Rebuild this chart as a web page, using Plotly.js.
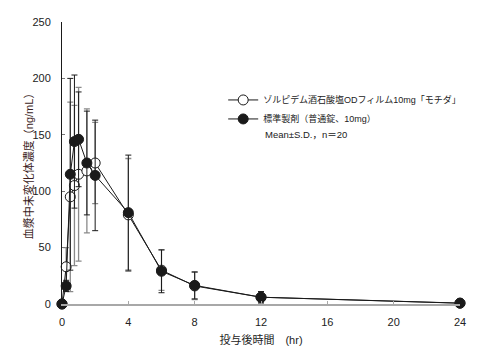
<!DOCTYPE html>
<html><head><meta charset="utf-8">
<script src="https://cdn.plot.ly/plotly-3.0.1.min.js"></script>
<style>html,body{margin:0;padding:0;background:#fff}</style>
</head><body>
<div id="chart" style="width:492px;height:357px"></div>
<script>
const timeHr = [0, 0.25, 0.5, 0.75, 1, 1.5, 2, 4, 6, 8, 12, 24];
const testName = "ゾルピデム酒石酸塩ODフィルム10mg「モチダ」";
const testMean = [0, 33, 95, 105, 115, 118, 125, 79, 30, 16, 6, 0.8];
const testSD   = [0, 17, 84, 71, 77, 55, 36, 50, 18, 12, 5, 1];
const refName = "標準製剤（普通錠、10mg）";
const refMean = [0, 16, 115, 144, 146, 125, 114, 81, 29, 16.5, 6, 0.7];
const refSD   = [0, 5, 85, 59, 42, 46, 49, 51, 19, 12, 5, 1];
const xTicks = [0, 4, 8, 12, 16, 20, 24];
const yTicks = [0, 50, 100, 150, 200, 250];
const xTitle = "投与後時間　(hr)";
const yTitle = "血漿中未変化体濃度（ng/mL）";
const noteText = "Mean±S.D.，n＝20";

const FONT = "Liberation Sans, Arial, Noto Sans CJK JP, sans-serif";

const traces = [
  {
    x: timeHr, y: testMean, name: testName, type: "scatter", mode: "lines+markers",
    cliponaxis: false,
    line: {color: "#1a1a1a", width: 1},
    marker: {symbol: "circle", size: 10, color: "#ffffff", line: {color: "#1a1a1a", width: 1}},
    error_y: {type: "data", array: testSD, visible: true, color: "#8a8a8a", thickness: 1.3, width: 3}
  },
  {
    x: timeHr, y: refMean, name: refName, type: "scatter", mode: "lines+markers",
    cliponaxis: false,
    line: {color: "#1a1a1a", width: 1},
    marker: {symbol: "circle", size: 10, color: "#1a1a1a", line: {color: "#1a1a1a", width: 1}},
    error_y: {type: "data", array: refSD, visible: true, color: "#1a1a1a", thickness: 1, width: 3}
  }
];

const layout = {
  width: 492, height: 357,
  margin: {l: 62, r: 32, t: 22, b: 53},
  paper_bgcolor: "#fff", plot_bgcolor: "#fff",
  font: {family: FONT, size: 11, color: "#222"},
  showlegend: true,
  legend: {
    x: 0.405, y: 0.775, xanchor: "left", yanchor: "top",
    font: {family: FONT, size: 9, color: "#222"},
    bgcolor: "rgba(0,0,0,0)", itemwidth: 30, tracegroupgap: 0
  },
  xaxis: {
    range: [0, 24], tickvals: xTicks, ticktext: xTicks.map(String),
    showgrid: false, zeroline: false,
    showline: true, linecolor: "#a8a8a8", linewidth: 2,
    ticks: "inside", ticklen: 3, tickcolor: "#a8a8a8", tickwidth: 1,
    ticklabelstandoff: 7,
    tickfont: {family: FONT, size: 11, color: "#222"},
    title: {text: xTitle, font: {family: FONT, size: 11, color: "#222"}, standoff: 9}
  },
  yaxis: {
    range: [0, 250], tickvals: yTicks, ticktext: yTicks.map(String),
    showgrid: false, zeroline: false,
    showline: true, linecolor: "#1a1a1a", linewidth: 1,
    ticks: "inside", ticklen: 3, tickcolor: "#777", tickwidth: 1,
    ticklabelstandoff: 8,
    tickfont: {family: FONT, size: 11, color: "#222"},
    title: {text: ""}
  },
  annotations: [
    {xref: "paper", yref: "paper", x: 0.505, y: 0.6, xanchor: "left", yanchor: "middle",
     text: noteText, showarrow: false, font: {family: FONT, size: 9.5, color: "#222"}},
    {xref: "paper", yref: "paper", x: -0.085, y: 0.5, xanchor: "center", yanchor: "middle",
     textangle: -90, text: yTitle, showarrow: false,
     font: {family: FONT, size: 11, color: "#3a1c1c"}}
  ]
};

Plotly.newPlot("chart", traces, layout, {staticPlot: true, displayModeBar: false});
</script>
</body></html>
